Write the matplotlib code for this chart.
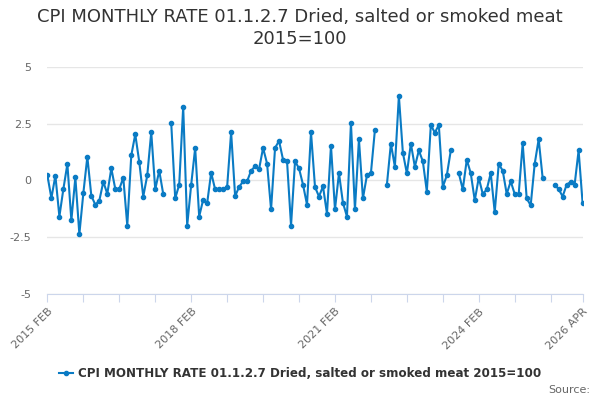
import numpy as np
import pandas as pd
import matplotlib
matplotlib.use("Agg")
import matplotlib.pyplot as plt

# monthly rate, Feb 2015 .. Apr 2026 (nan = no value published)
months = pd.date_range("2015-02-01", "2026-04-01", freq="MS")
rate = [
    0.22, -0.78, 0.21, -1.59, -0.38, 0.72, -1.76, 0.13, -2.37, -0.56,
    1.04, -0.68, -1.07, -0.89, -0.06, -0.59, 0.53, -0.38, -0.38, 0.12,
    -1.99, 1.10, 2.03, 0.81, -0.71, 0.22, 2.12, -0.40, 0.43, -0.60,
    np.nan, 2.53, -0.79, -0.19, 3.24, -1.99, -0.19, 1.43, -1.59, -0.85,
    -1.00, 0.34, -0.40, -0.40, -0.40, -0.29, 2.12, -0.69, -0.29, -0.04,
    -0.04, 0.43, 0.62, 0.50, 1.43, 0.74, -1.28, 1.43, 1.74, 0.91,
    0.84, -1.99, 0.84, 0.53, -0.19, -1.07, 2.12, -0.29, -0.71, -0.26,
    -1.47, 1.53, -1.28, 0.32, -0.99, -1.59, 2.53, -1.28, 1.81, -0.79,
    0.22, 0.32, 2.22, np.nan, np.nan, -0.19, 1.62, 0.60, 3.72, 1.22,
    0.31, 1.62, 0.60, 1.32, 0.84, -0.49, 2.44, 2.10, 2.44, -0.29,
    0.22, 1.32, np.nan, 0.32, -0.40, 0.91, 0.31, -0.88, 0.12, -0.60,
    -0.40, 0.32, -1.40, 0.72, 0.43, -0.60, -0.04, -0.60, -0.60, 1.63,
    -0.79, -1.10, 0.72, 1.81, 0.10, np.nan, np.nan, -0.19, -0.38, -0.71,
    -0.19, -0.07, -0.19, 1.32, -1.00,
]
series_name = "CPI MONTHLY RATE 01.1.2.7 Dried, salted or smoked meat 2015=100"
y_ticks = [-5, -2.5, 0, 2.5, 5]
labelled = ["2015 FEB", "2018 FEB", "2021 FEB", "2024 FEB", "2026 APR"]

month_labels = [m.strftime("%Y %b").upper() for m in months]
x = np.arange(len(months))

fig = plt.figure(figsize=(6, 4), dpi=100)
ax = fig.add_axes([0.078, 0.265, 0.894, 0.568])

line_color = "#0a7bc4"
ax.plot(x, rate, color=line_color, linewidth=1.5, marker="o", markersize=3,
        label=series_name)

ax.set_xlim(-0.15, len(months) - 1 + 0.15)
ax.set_ylim(-5, 5)
ax.set_yticks(y_ticks)
ax.set_yticklabels(["-5", "-2.5", "0", "2.5", "5"])
ax.grid(axis="y", color="#e6e6e6", linewidth=1)
ax.set_axisbelow(True)

# ticks every 9 months plus last month, labels only on some
tick_pos = list(range(0, len(months), 9)) + [len(months) - 1]
tick_lab = [month_labels[i] if month_labels[i] in labelled else "" for i in tick_pos]
ax.set_xticks(tick_pos)
ax.set_xticklabels(tick_lab, rotation=45, ha="right", rotation_mode="anchor")

for s in ["top", "right", "left"]:
    ax.spines[s].set_visible(False)
ax.spines["bottom"].set_color("#ccd6eb")
ax.tick_params(axis="x", colors="#ccd6eb", length=6, labelcolor="#666666",
               labelsize=8, pad=3)
ax.tick_params(axis="y", length=0, labelcolor="#666666", labelsize=8, pad=11)

fig.text(0.5, 0.957, "CPI MONTHLY RATE 01.1.2.7 Dried, salted or smoked meat",
         ha="center", va="center", fontsize=13, color="#333333")
fig.text(0.5, 0.902, "2015=100", ha="center", va="center", fontsize=13,
         color="#333333")

leg = fig.legend(loc="center", bbox_to_anchor=(0.5, 0.067), frameon=False,
                 handlelength=1.2, handletextpad=0.4,
                 prop={"size": 8.6, "weight": "bold"})
for t in leg.get_texts():
    t.set_color("#333333")

fig.text(0.983, 0.025, "Source:", ha="right", va="center", fontsize=8,
         color="#666666")

fig.savefig("out.png", dpi=100)
